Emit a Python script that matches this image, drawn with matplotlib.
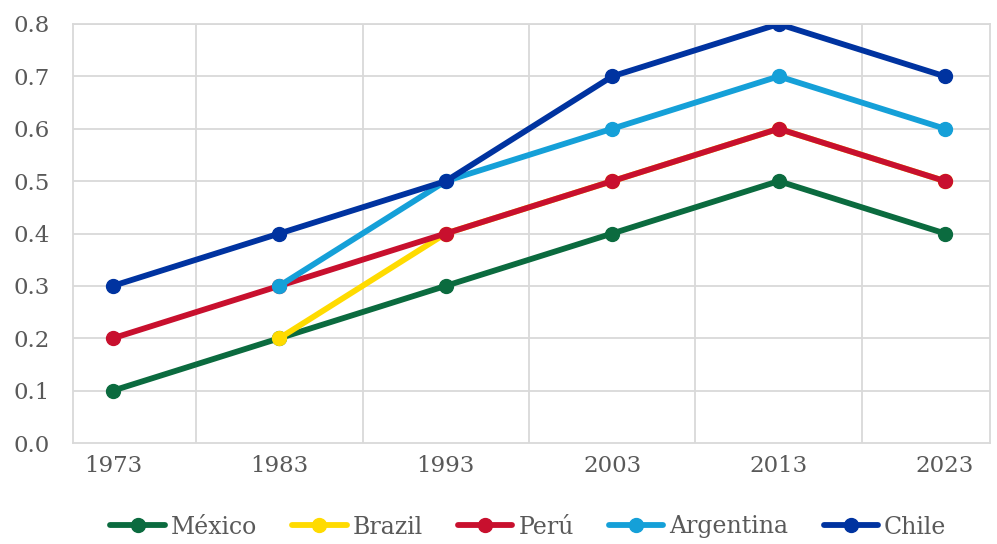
import matplotlib.pyplot as plt
import numpy as np

# Años y series por país
years = ["1973", "1983", "1993", "2003", "2013", "2023"]
mexico = [0.1, 0.2, 0.3, 0.4, 0.5, 0.4]
brazil = [np.nan, 0.2, 0.4, 0.5, 0.6, 0.5]
peru = [0.2, 0.3, 0.4, 0.5, 0.6, 0.5]
argentina = [np.nan, 0.3, 0.5, 0.6, 0.7, 0.6]
chile = [0.3, 0.4, 0.5, 0.7, 0.8, 0.7]

series = [
    ("México", mexico, "#0B6B3F"),
    ("Brazil", brazil, "#FFDB00"),
    ("Perú", peru, "#C8102E"),
    ("Argentina", argentina, "#15A0D8"),
    ("Chile", chile, "#0033A0"),
]

plt.rcParams["font.family"] = ["DejaVu Serif"]
texto = "#595959"
rejilla = "#D9D9D9"

fig = plt.figure(figsize=(9.97, 5.44), dpi=100)
ax = fig.add_axes([73 / 997, 1 - 443 / 544, (990 - 73) / 997, (443 - 24) / 544])

x = np.arange(len(years))
for nombre, valores, color in series:
    ax.plot(x, valores, color=color, lw=4.2, marker="o", ms=10,
            label=nombre, solid_capstyle="round")

ax.set_xlim(-0.24, 5.27)
ax.set_ylim(0, 0.8)
ax.set_xticks(x)
ax.set_xticklabels(years)
ax.set_yticks(np.arange(0, 0.81, 0.1))
ax.set_yticklabels([f"{v:.1f}" for v in np.arange(0, 0.81, 0.1)])

# Rejilla: horizontales en cada décima, verticales entre categorías
for v in np.arange(0.1, 0.81, 0.1):
    ax.axhline(v, color=rejilla, lw=1.3, zorder=0)
for g in np.arange(0.5, 5, 1):
    ax.axvline(g, color=rejilla, lw=1.3, zorder=0)

for lado in ax.spines.values():
    lado.set_color(rejilla)
    lado.set_linewidth(1.3)

ax.tick_params(length=0, labelsize=16.5, colors=texto)
ax.tick_params(axis="x", pad=9)
ax.tick_params(axis="y", pad=17)

fig.legend(loc="center", bbox_to_anchor=(0.53, 1 - 527 / 544), ncol=5,
           frameon=False, fontsize=17, handlelength=2.3, handletextpad=0.25,
           columnspacing=1.5, labelcolor=texto)

fig.savefig("out.png", dpi=100)
